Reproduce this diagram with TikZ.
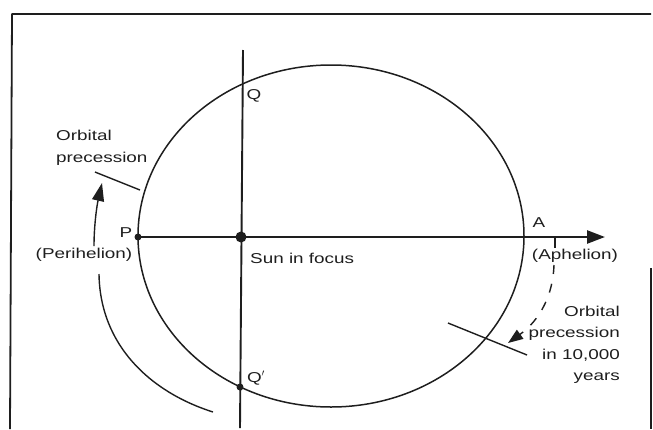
\documentclass[tikz,border=0pt]{standalone}
\usepackage{fontspec}
\usepackage{tikz}
\usetikzlibrary{arrows.meta, positioning, calc}
\newfontfamily\lblfont{Liberation Sans}[FakeStretch=1.32]
\definecolor{Ink}{HTML}{1E1E1E}

\begin{document}
\begin{tikzpicture}[x=1pt, y=-1pt, line join=round,
    lbl/.style={font=\lblfont\fontsize{14.3}{21.5}\selectfont, text=Ink, inner sep=1pt},
    dot/.style={circle, fill=Ink, inner sep=0pt, minimum size=#1},
    thin line/.style={Ink, line width=1.4pt}]
    \useasboundingbox (0,0) rectangle (653,429);
    % frame
    \draw[Ink, line width=1.8pt] (10,429) -- (12,14) -- (651,14);
    \draw[Ink, line width=1.2pt] (651,268) -- (651,429);
    % orbit and axes
    \draw[Ink, line width=1.5pt] (331,236) ellipse [x radius=193pt, y radius=171pt];
    \coordinate (qtop) at (243,50);
    \coordinate (qend) at (240,428);
    \coordinate (tip) at (605,237);
    \draw[Ink, line width=1.9pt] (qtop) -- (qend);
    \node[dot=7pt] (P) at (138,237) {};
    \node[dot=11pt] (sun) at (241,237) {};
    \node[dot=7pt] (Qb) at (240,387) {};
    \draw[Ink, line width=2.5pt, -{Triangle[length=18pt, width=13pt]}] (P.center) -- (tip);
    % labels
    \node[lbl] (Plbl) at (126,233) {P};
    \node[lbl] (perihelion) at (84,255) {(Perihelion)};
    \node[lbl, anchor=west] (sunlbl) at (249,258) {Sun in focus};
    \node[lbl] (Albl) at (539,223) {A};
    \node[lbl] (aphelion) at (575,256) {(Aphelion)};
    \node[lbl] (Qlbl) at (254,96) {Q};
    \node[lbl] (Qblbl) at (256,378) {Q$'$};
    \node[lbl, anchor=west, align=left] (prectop) at (55,148) {Orbital\\precession};
    \node[lbl, anchor=east, align=right] (precbot) at (621,345) {Orbital\\precession\\in 10,000\\years};
    % precession marks
    \coordinate (m1a) at (95,172);
    \coordinate (m1b) at (140,190);
    \coordinate (m2a) at (448,323);
    \coordinate (m2b) at (527,355);
    \draw[thin line] (m1a) -- (m1b);
    \draw[thin line] (m2a) -- (m2b);
    % precession arrows
    \draw[thin line] (213,412) .. controls (150,392) and (100,345) .. (99,274);
    \draw[thin line, -{Triangle[length=18pt, width=12pt]}] (94,246) .. controls (94,225) and (97,205) .. (102,183);
    \coordinate (aptick) at (555,237);
    \draw[thin line] (aptick) -- ++(0,11);
    \draw[thin line, dash pattern=on 9pt off 10pt, -{Triangle[length=15pt, width=11pt]}]
        (554,265) .. controls (553,295) and (540,320) .. (508,343);
\end{tikzpicture}
\end{document}
